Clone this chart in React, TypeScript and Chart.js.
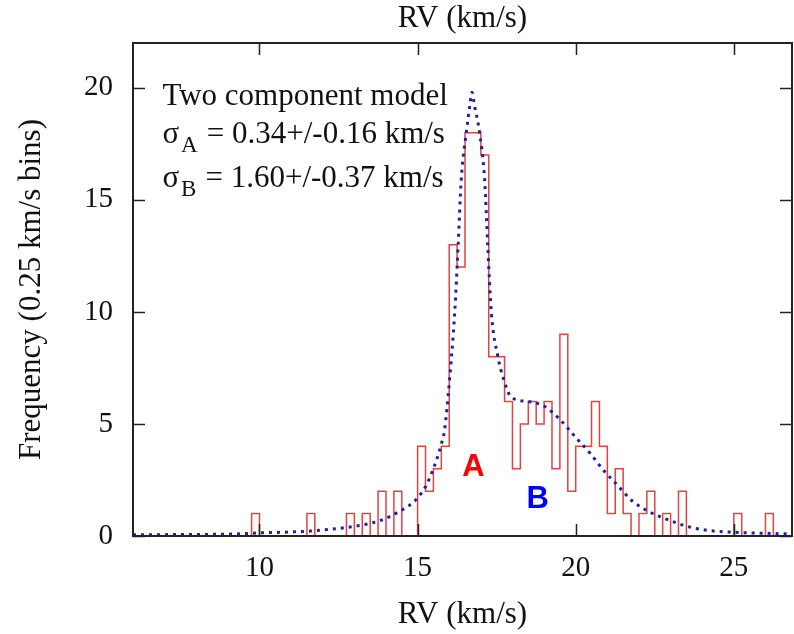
import React, { useEffect, useRef } from 'react';
import { Chart, registerables } from 'chart.js';

Chart.register(...registerables);

// Histogram: left edge of each 0.25 km/s bin (non-empty bins) and its count
const BIN_WIDTH = 0.25;
const binStarts = [9.75, 11.5, 12.75, 13.25, 13.75, 14.25, 15.0, 15.25, 15.5, 15.75, 16.0, 16.25, 16.5, 16.75, 17.0, 17.25, 17.5, 17.75, 18.0, 18.25, 18.5, 18.75, 19.0, 19.25, 19.5, 19.75, 20.0, 20.25, 20.5, 20.75, 21.0, 21.25, 21.5, 22.0, 22.25, 22.75, 23.25, 25.0, 26.0];
const binCounts = [1, 1, 1, 1, 2, 2, 4, 2, 3, 4, 13, 12, 18, 18, 17, 8, 8, 6, 3, 5, 6, 5, 6, 3, 9, 2, 4, 4, 6, 4, 1, 3, 1, 1, 2, 1, 2, 1, 1];

// Two component model curve
const modelX = [6.0, 8.0, 9.0, 10.0, 11.0, 11.6, 12.75, 13.25, 13.8, 14.3, 14.75, 15.0, 15.25, 15.4, 15.6, 15.75, 15.85, 16.0, 16.17, 16.28, 16.38, 16.54, 16.65, 16.72, 16.8, 16.96, 17.12, 17.22, 17.33, 17.54, 17.72, 17.96, 18.5, 19.0, 19.5, 20.0, 20.45, 20.9, 21.3, 21.8, 22.3, 22.87, 23.6, 24.24, 25.0, 26.0, 26.9];
const modelY = [0.05, 0.07, 0.08, 0.14, 0.18, 0.22, 0.38, 0.49, 0.68, 1.0, 1.38, 1.7, 2.2, 2.65, 3.4, 4.1, 4.7, 6.8, 9.9, 12.9, 15.9, 18.0, 19.2, 19.8, 19.2, 18.0, 15.9, 12.9, 10.0, 8.0, 7.0, 6.2, 6.0, 5.8, 5.2, 4.4, 3.7, 2.9, 2.3, 1.55, 1.1, 0.75, 0.4, 0.24, 0.17, 0.12, 0.09];

// Axes
const X_MIN = 6;
const X_MAX = 26.84;
const Y_MIN = 0;
const Y_MAX = 22;
const xTicks = [10, 15, 20, 25];
const yTicks = [0, 5, 10, 15, 20];

const xTitle = 'RV (km/s)';
const yTitle = 'Frequency (0.25 km/s bins)';
const modelTitle = 'Two component model';
const sigmaA = { sub: 'A', text: '= 0.34+/-0.16 km/s' };
const sigmaB = { sub: 'B', text: '= 1.60+/-0.37 km/s' };

// annotation anchors in data coordinates
const textLeftX = 6.93;
const textBaselines = [19.24, 17.54, 15.58];
const labelA = { text: 'A', x: 16.77, y: 2.68, color: '#ff0000' };
const labelB = { text: 'B', x: 18.8, y: 1.25, color: '#0000ff' };

const SERIF = '"Liberation Serif", "Times New Roman", serif';

function buildSteps() {
  // with stepped: 'before' each point's value starts at its x and holds until the next point
  const pts: { x: number; y: number }[] = [{ x: X_MIN, y: 0 }];
  for (let i = 0; i < binStarts.length; i++) {
    const s = binStarts[i];
    pts.push({ x: s, y: binCounts[i] });
    const end = s + BIN_WIDTH;
    const next = i + 1 < binStarts.length ? binStarts[i + 1] : null;
    if (next === null || Math.abs(next - end) > 1e-9) pts.push({ x: end, y: 0 });
  }
  pts.push({ x: X_MAX, y: 0 });
  return pts;
}

const decorPlugin = {
  id: 'decor',
  afterDatasetsDraw(chart: any) {
    const ctx = chart.ctx as CanvasRenderingContext2D;
    const xs = chart.scales.x;
    const ys = chart.scales.y;
    ctx.save();
    ctx.fillStyle = '#111';
    ctx.textAlign = 'left';
    ctx.textBaseline = 'alphabetic';
    const lx = xs.getPixelForValue(textLeftX);
    ctx.font = `31px ${SERIF}`;
    ctx.fillText(modelTitle, lx, ys.getPixelForValue(textBaselines[0]));
    const lines = [sigmaA, sigmaB];
    lines.forEach((ln, i) => {
      const by = ys.getPixelForValue(textBaselines[i + 1]);
      ctx.font = `31px ${SERIF}`;
      ctx.fillText('σ', lx, by);
      const sw = ctx.measureText('σ').width;
      ctx.font = `23px ${SERIF}`;
      ctx.fillText(ln.sub, lx + sw + 2, by + 9);
      const aw = ctx.measureText(ln.sub).width;
      ctx.font = `31px ${SERIF}`;
      ctx.fillText(ln.text, lx + sw + 2 + aw + 9, by);
    });
    ctx.textAlign = 'center';
    ctx.font = 'bold 31px "Liberation Sans", Arial, sans-serif';
    [labelA, labelB].forEach((l) => {
      ctx.fillStyle = l.color;
      ctx.fillText(l.text, xs.getPixelForValue(l.x), ys.getPixelForValue(l.y));
    });
    ctx.restore();
  },
  afterDraw(chart: any) {
    const ctx = chart.ctx as CanvasRenderingContext2D;
    const { left, right, top, bottom } = chart.chartArea;
    const xs = chart.scales.x;
    const ys = chart.scales.y;
    ctx.save();
    ctx.strokeStyle = '#222';
    ctx.lineWidth = 1.5;
    const TL = 12;
    ctx.beginPath();
    xs.ticks.forEach((t: any) => {
      const px = Math.round(xs.getPixelForValue(t.value)) + 0.5;
      ctx.moveTo(px, bottom);
      ctx.lineTo(px, bottom - TL);
      ctx.moveTo(px, top);
      ctx.lineTo(px, top + TL);
    });
    ys.ticks.forEach((t: any) => {
      const py = Math.round(ys.getPixelForValue(t.value)) + 0.5;
      ctx.moveTo(left, py);
      ctx.lineTo(left + TL, py);
      ctx.moveTo(right, py);
      ctx.lineTo(right - TL, py);
    });
    ctx.stroke();
    ctx.lineWidth = 2;
    ctx.strokeRect(left, top, right - left, bottom - top);
    ctx.restore();
  },
};

export default function App() {
  const ref = useRef<HTMLCanvasElement | null>(null);

  useEffect(() => {
    if (!ref.current) return;
    const model = modelX.map((x, i) => ({ x, y: modelY[i] }));
    const chart = new Chart(ref.current, {
      type: 'line',
      data: {
        datasets: [
          {
            label: 'model',
            data: model,
            borderColor: '#1f1f9f',
            borderWidth: 3,
            borderDash: [3, 5],
            pointRadius: 0,
            cubicInterpolationMode: 'monotone',
            fill: false,
          },
          {
            label: 'histogram',
            data: buildSteps(),
            borderColor: '#dd4444',
            borderWidth: 1.5,
            stepped: 'before',
            pointRadius: 0,
            fill: false,
          },
        ],
      },
      options: {
        animation: false,
        responsive: false,
        events: [],
        layout: { padding: { left: 0, right: 2, top: 0, bottom: 0 } },
        plugins: { legend: { display: false }, tooltip: { enabled: false }, title: { display: false } },
        scales: {
          x: {
            type: 'linear',
            position: 'bottom',
            min: X_MIN,
            max: X_MAX,
            afterBuildTicks: (s: any) => { s.ticks = xTicks.map((v) => ({ value: v })); },
            afterFit: (s: any) => { s.height = 98; },
            grid: { display: false, drawTicks: false },
            border: { display: false },
            ticks: { color: '#111', padding: 15, maxRotation: 0, autoSkip: false, font: { family: SERIF, size: 29 } },
            title: { display: true, text: xTitle, color: '#111', padding: { top: 0, bottom: 1 }, font: { family: SERIF, size: 31 } },
          },
          x2: {
            type: 'linear',
            position: 'top',
            min: X_MIN,
            max: X_MAX,
            afterFit: (s: any) => { s.height = 43; },
            grid: { display: false, drawTicks: false },
            border: { display: false },
            ticks: { display: false },
            title: { display: true, text: xTitle, color: '#111', padding: { top: 0, bottom: 0 }, font: { family: SERIF, size: 31 } },
          },
          y: {
            type: 'linear',
            position: 'left',
            min: Y_MIN,
            max: Y_MAX,
            afterBuildTicks: (s: any) => { s.ticks = yTicks.map((v) => ({ value: v })); },
            afterFit: (s: any) => { s.width = 133; },
            grid: { display: false, drawTicks: false },
            border: { display: false },
            ticks: { color: '#111', padding: 20, font: { family: SERIF, size: 29 } },
            title: { display: true, text: yTitle, color: '#111', padding: { top: 13, bottom: 0 }, font: { family: SERIF, size: 31 } },
          },
        },
      },
      plugins: [decorPlugin],
    } as any);
    return () => chart.destroy();
  }, []);

  return (
    <div style={{ position: 'fixed', left: 0, top: 0, width: 794, height: 634, background: '#fff' }}>
      <canvas ref={ref} width={794} height={634} style={{ display: 'block' }} />
    </div>
  );
}
